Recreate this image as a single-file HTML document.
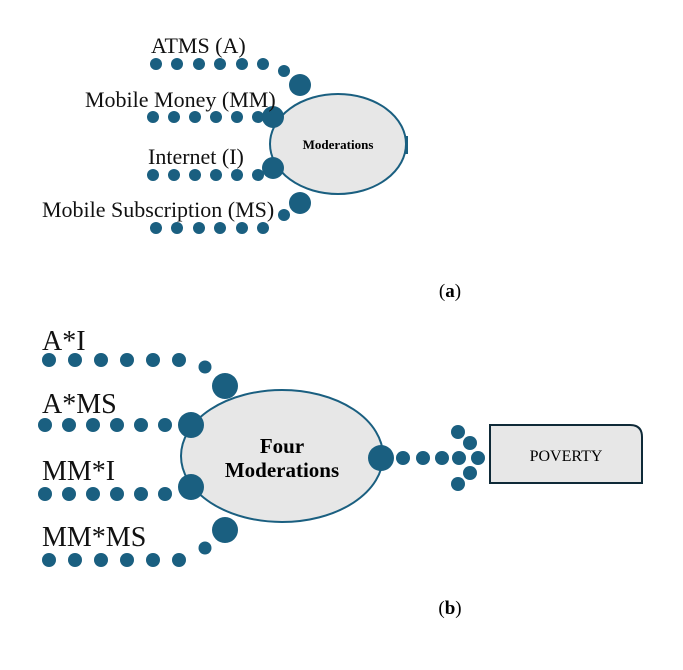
<!DOCTYPE html>
<html><head><meta charset="utf-8"><style>body{margin:0;background:#fff}svg{display:block}</style></head><body>
<svg width="683" height="670" viewBox="0 0 683 670" xmlns="http://www.w3.org/2000/svg" font-family="Liberation Serif, serif">
<g fill="#1a5f80">
<circle cx="156" cy="64" r="6"/><circle cx="177" cy="64" r="6"/><circle cx="199" cy="64" r="6"/><circle cx="220" cy="64" r="6"/><circle cx="242" cy="64" r="6"/><circle cx="263" cy="64" r="6"/><circle cx="284" cy="71" r="6"/>
<circle cx="153" cy="117" r="6"/><circle cx="174" cy="117" r="6"/><circle cx="195" cy="117" r="6"/><circle cx="216" cy="117" r="6"/><circle cx="237" cy="117" r="6"/><circle cx="258" cy="117" r="6"/>
<circle cx="153" cy="175" r="6"/><circle cx="174" cy="175" r="6"/><circle cx="195" cy="175" r="6"/><circle cx="216" cy="175" r="6"/><circle cx="237" cy="175" r="6"/><circle cx="258" cy="175" r="6"/>
<circle cx="156" cy="228" r="6"/><circle cx="177" cy="228" r="6"/><circle cx="199" cy="228" r="6"/><circle cx="220" cy="228" r="6"/><circle cx="242" cy="228" r="6"/><circle cx="263" cy="228" r="6"/><circle cx="284" cy="215" r="6"/>
</g>
<ellipse cx="338" cy="144" rx="68" ry="50" fill="#e7e7e7" stroke="#1a5f80" stroke-width="2"/>
<rect x="405" y="136" width="3" height="18" fill="#1a5f80"/>
<g fill="#1a5f80"><circle cx="300" cy="85" r="11"/><circle cx="273" cy="117" r="11"/><circle cx="273" cy="168" r="11"/><circle cx="300" cy="203" r="11"/></g>
<text x="338" y="149" font-size="13" font-weight="bold" text-anchor="middle">Moderations</text>
<g font-size="22" fill="#111">
<text x="151" y="53">ATMS (A)</text>
<text x="85" y="107">Mobile Money (MM)</text>
<text x="148" y="164">Internet (I)</text>
<text x="42" y="217">Mobile Subscription (MS)</text>
</g>
<text x="450" y="297" font-size="19" text-anchor="middle">(<tspan font-weight="bold">a</tspan>)</text>

<g fill="#1a5f80">
<circle cx="49" cy="360" r="7"/><circle cx="75" cy="360" r="7"/><circle cx="101" cy="360" r="7"/><circle cx="127" cy="360" r="7"/><circle cx="153" cy="360" r="7"/><circle cx="179" cy="360" r="7"/><circle cx="205" cy="367" r="6.5"/>
<circle cx="45" cy="425" r="7"/><circle cx="69" cy="425" r="7"/><circle cx="93" cy="425" r="7"/><circle cx="117" cy="425" r="7"/><circle cx="141" cy="425" r="7"/><circle cx="165" cy="425" r="7"/>
<circle cx="45" cy="494" r="7"/><circle cx="69" cy="494" r="7"/><circle cx="93" cy="494" r="7"/><circle cx="117" cy="494" r="7"/><circle cx="141" cy="494" r="7"/><circle cx="165" cy="494" r="7"/>
<circle cx="49" cy="560" r="7"/><circle cx="75" cy="560" r="7"/><circle cx="101" cy="560" r="7"/><circle cx="127" cy="560" r="7"/><circle cx="153" cy="560" r="7"/><circle cx="179" cy="560" r="7"/><circle cx="205" cy="548" r="6.5"/>
</g>
<ellipse cx="282" cy="456" rx="101" ry="66" fill="#e7e7e7" stroke="#1a5f80" stroke-width="2"/>
<g fill="#1a5f80"><circle cx="225" cy="386" r="13"/><circle cx="191" cy="425" r="13"/><circle cx="191" cy="487" r="13"/><circle cx="225" cy="530" r="13"/>
<circle cx="381" cy="458" r="13"/><circle cx="403" cy="458" r="7"/><circle cx="423" cy="458" r="7"/><circle cx="442" cy="458" r="7"/><circle cx="459" cy="458" r="7"/>
<circle cx="458" cy="432" r="7"/><circle cx="470" cy="443" r="7"/><circle cx="478" cy="458" r="7"/><circle cx="470" cy="473" r="7"/><circle cx="458" cy="484" r="7"/></g>
<text x="282" y="453" font-size="21" font-weight="bold" text-anchor="middle">Four</text>
<text x="282" y="477" font-size="21" font-weight="bold" text-anchor="middle">Moderations</text>
<path d="M490 425 H630 Q642 425 642 437 V483 H490 Z" fill="#e7e7e7" stroke="#0f2a38" stroke-width="2"/>
<text x="566" y="461" font-size="16" text-anchor="middle">POVERTY</text>
<g font-size="28" fill="#111">
<text x="42" y="350">A*I</text>
<text x="42" y="413">A*MS</text>
<text x="42" y="480">MM*I</text>
<text x="42" y="546">MM*MS</text>
</g>
<text x="450" y="614" font-size="19" text-anchor="middle">(<tspan font-weight="bold">b</tspan>)</text>
</svg>
</body></html>
